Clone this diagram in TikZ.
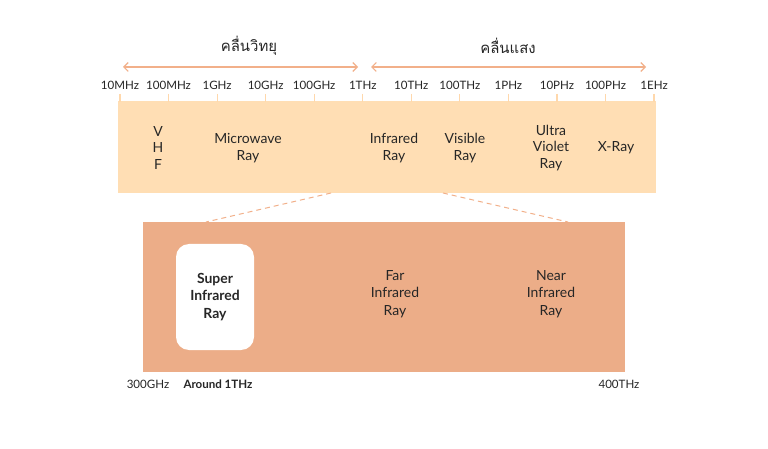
\documentclass[tikz,border=0pt]{standalone}
\usepackage{fontspec}
\setmainfont{Lato}
\newfontfamily\thaifont[Script=Thai]{Loma}
\usetikzlibrary{arrows.meta}
\definecolor{bandlight}{HTML}{FFDEB4}
\definecolor{banddark}{HTML}{ECAD88}
\definecolor{accent}{HTML}{F2B08A}
\definecolor{tickc}{HTML}{FFD8AC}
\definecolor{txt}{HTML}{262626}
\begin{document}
\begin{tikzpicture}[x=1bp,y=-1bp,
  freq/.style={text=txt,font=\fontsize{11.6}{13}\selectfont,inner sep=0pt},
  bandlbl/.style={text=txt,font=\fontsize{14}{17}\selectfont,align=center,inner sep=0pt},
  thailbl/.style={text=txt,font=\thaifont\fontsize{15}{18}\selectfont,inner sep=0pt},
  rangearrow/.style={draw=accent,line width=1.1pt,{Straight Barb[length=4.5pt,width=9pt]}-{Straight Barb[length=4.5pt,width=9pt]}},
  tickmark/.style={draw=tickc,line width=1.2pt},
  zoomline/.style={draw=accent,line width=1pt,dash pattern=on 5pt off 4pt}]
\useasboundingbox (0,0) rectangle (768,449);
\fill[white] (0,0) rectangle (768,449);
% Thai headings
\node[thailbl] (radio) at (249,46) {คลื่นวิทยุ};
\node[thailbl] (light) at (508,46) {คลื่นแสง};
% arrows
\coordinate (ra) at (123,67); \coordinate (rb) at (358,67);
\coordinate (la) at (371,67); \coordinate (lb) at (646,67);
\draw[rangearrow] (ra) -- (rb);
\draw[rangearrow] (la) -- (lb);
% top band
\fill[bandlight] (118,101) rectangle (656,193);
% ticks and labels
\foreach \lab [count=\i from 0] in {10MHz,100MHz,1GHz,10GHz,100GHz,1THz,10THz,100THz,1PHz,10PHz,100PHz,1EHz}{
  \pgfmathsetmacro{\xx}{120+48.55*\i}
  \node[freq] (f\i) at (\xx,85) {\lab};
  \coordinate (t\i) at (\xx,94);
  \coordinate (u\i) at (\xx,102);
  \draw[tickmark] (t\i) -- (u\i);
}
% band labels
\node[bandlbl] (vhf) at (158,148) {V\\H\\F};
\node[bandlbl] (micro) at (248,148.5) {Microwave\\Ray};
\node[bandlbl] (ir) at (394,148.5) {Infrared\\Ray};
\node[bandlbl] (vis) at (465,148.5) {Visible\\Ray};
\node[bandlbl] (uv) at (551,148) {Ultra\\Violet\\Ray};
\node[bandlbl] (xray) at (616,148) {X-Ray};
% zoom lines
\coordinate (za) at (331,193); \coordinate (zb) at (206,222);
\coordinate (zc) at (443,193); \coordinate (zd) at (568,222);
\draw[zoomline] (za) -- (zb);
\draw[zoomline] (zc) -- (zd);
% lower rect
\fill[banddark] (143,222) rectangle (625,372);
\node[fill=white,rounded corners=13bp,minimum width=78bp,minimum height=106bp,inner sep=0pt] (superbox) at (215,297) {};
\node[bandlbl,font=\bfseries\fontsize{14}{17.5}\selectfont] (super) at (215,297) {Super\\Infrared\\Ray};
\node[bandlbl,font=\fontsize{14}{17.5}\selectfont] (far) at (395,294) {Far\\Infrared\\Ray};
\node[bandlbl,font=\fontsize{14}{17.5}\selectfont] (near) at (551,294) {Near\\Infrared\\Ray};
% bottom labels
\node[freq] (b300) at (148,384) {300GHz};
\node[freq,font=\bfseries\fontsize{11.6}{13}\selectfont] (b1t) at (218,384) {Around 1THz};
\node[freq] (b400) at (619,384) {400THz};
\end{tikzpicture}
\end{document}
